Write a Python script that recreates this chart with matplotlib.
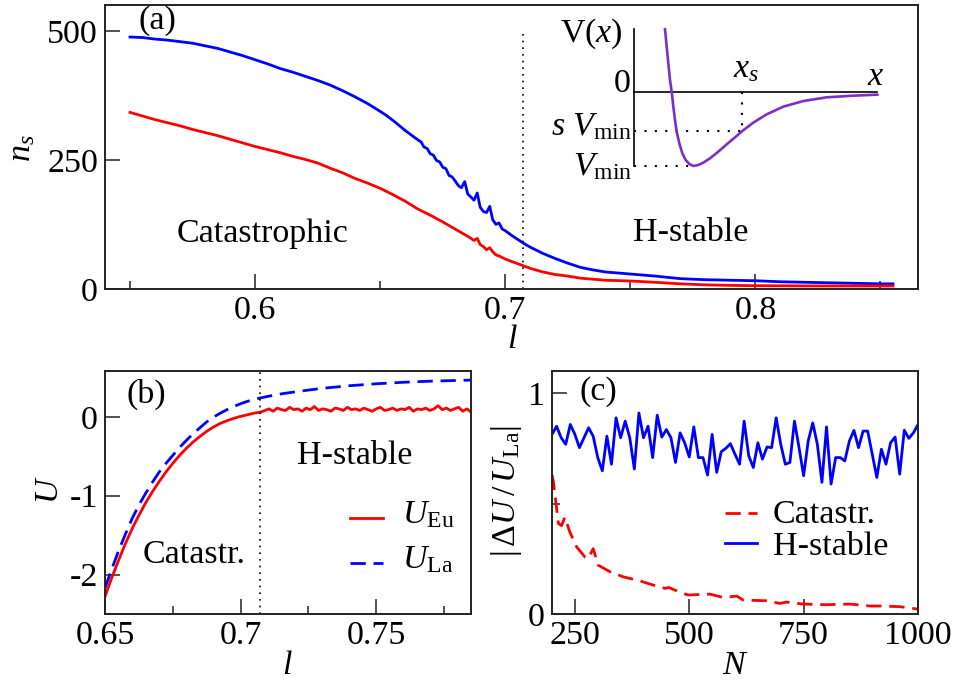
import numpy as np
import matplotlib
matplotlib.use('Agg')
import matplotlib.pyplot as plt

plt.rcParams['font.family'] = ['Liberation Serif', 'DejaVu Serif']
plt.rcParams['mathtext.fontset'] = 'custom'
plt.rcParams['mathtext.rm'] = 'Liberation Serif'
plt.rcParams['mathtext.it'] = 'Liberation Serif:italic'
plt.rcParams['mathtext.bf'] = 'Liberation Serif:bold'
FS = 24.5

RED = '#ff0000'
BLUE = '#0000ff'
PURPLE = '#7b2fc4'

# ---------------- panel (a) data ----------------
l_a_blue = [0.550, 0.555, 0.560, 0.565, 0.570, 0.575, 0.580, 0.585, 0.590, 0.595,
            0.600, 0.605, 0.610, 0.615, 0.620, 0.625, 0.630, 0.635, 0.640, 0.645,
            0.650, 0.6525, 0.655, 0.6575, 0.660, 0.6625, 0.665, 0.6663, 0.6675, 0.6688,
            0.670, 0.6713, 0.6725, 0.6738, 0.675, 0.6763, 0.6775, 0.6788, 0.680, 0.6813,
            0.6825, 0.6838, 0.685, 0.6863, 0.6875, 0.6888, 0.690, 0.6913, 0.6925, 0.6938,
            0.695, 0.6963, 0.6975, 0.6988, 0.700, 0.7025, 0.705, 0.7075, 0.710, 0.715,
            0.720, 0.725, 0.730, 0.735, 0.740, 0.745, 0.750, 0.760, 0.770, 0.780,
            0.790, 0.800, 0.810, 0.820, 0.830, 0.840, 0.850, 0.855]
n_blue = [488, 487, 484, 482, 479, 476, 471, 466, 459, 452,
          444, 436, 427, 420, 412, 404, 395, 384, 372, 359,
          344, 336, 327, 317, 307, 298, 289, 285, 275, 272,
          262, 259, 249, 246, 236, 233, 220, 217, 209, 200,
          196, 208, 184, 178, 172, 186, 158, 150, 148, 160,
          134, 125, 128, 116, 113, 104, 96, 88, 81, 69,
          59, 50, 42, 37, 33, 31, 29, 25, 20, 18,
          17, 16, 14, 13, 12, 11, 10, 10]

l_a_red = [0.550, 0.555, 0.560, 0.565, 0.570, 0.575, 0.580, 0.585, 0.590, 0.595,
           0.600, 0.605, 0.610, 0.615, 0.620, 0.625, 0.630, 0.635, 0.640, 0.645,
           0.650, 0.655, 0.660, 0.665, 0.670, 0.675, 0.680, 0.6825, 0.685, 0.6863,
           0.6875, 0.6888, 0.690, 0.6913, 0.6925, 0.6938, 0.695, 0.6963, 0.6975, 0.700,
           0.705, 0.710, 0.715, 0.720, 0.725, 0.730, 0.735, 0.740, 0.750, 0.760,
           0.770, 0.780, 0.790, 0.800, 0.820, 0.840, 0.855]
n_red = [342, 335, 328, 322, 316, 309, 303, 297, 290, 283,
         276, 270, 264, 257, 251, 244, 234, 225, 214, 205,
         195, 183, 170, 155, 143, 130, 116, 109, 102, 98,
         94, 98, 86, 82, 76, 80, 72, 66, 64, 58,
         49, 40, 33, 28, 25, 21, 19, 17, 15.5, 13,
         10, 8, 7, 6.4, 6, 5.8, 5.8]

l_crit = 0.7071

# inset potential V(x) (schematic, arbitrary units)
x_pot = [0.31, 0.3267, 0.3433, 0.36, 0.3767, 0.3933, 0.41, 0.4267, 0.4533, 0.4833,
         0.5167, 0.5533, 0.5933, 0.6433, 0.6933, 0.76, 0.8433, 0.9267, 1.01, 1.0833,
         1.1933, 1.3267, 1.4933, 1.6933, 1.9267, 2.1933, 2.4333]
v_pot = [0.847, 0.613, 0.387, 0.162, 0.005, -0.198, -0.378, -0.536, -0.694, -0.829,
         -0.919, -0.973, -1.0, -0.986, -0.955, -0.896, -0.806, -0.707, -0.613, -0.527,
         -0.414, -0.302, -0.198, -0.122, -0.072, -0.050, -0.036]
x_s = 1.0833
s_vmin = -0.527
v_min = -1.0
x_vmin = 0.5933

# ---------------- panel (b) data ----------------
l_b_la = [0.650, 0.6525, 0.655, 0.6575, 0.660, 0.6625, 0.665, 0.6675, 0.670, 0.6725,
          0.675, 0.6775, 0.680, 0.6825, 0.685, 0.6875, 0.690, 0.6925, 0.695, 0.6975,
          0.700, 0.7025, 0.705, 0.7075, 0.710, 0.715, 0.720, 0.725, 0.730, 0.740,
          0.750, 0.760, 0.770, 0.7854]
U_La = [-2.17, -1.93, -1.70, -1.49, -1.29, -1.12, -0.97, -0.83, -0.70, -0.59,
        -0.49, -0.39, -0.30, -0.215, -0.14, -0.065, -0.005, 0.045, 0.09, 0.13,
        0.165, 0.195, 0.22, 0.24, 0.258, 0.29, 0.315, 0.338, 0.36, 0.393,
        0.418, 0.437, 0.451, 0.465]

l_b_eu = [0.650, 0.6525, 0.655, 0.6575, 0.660, 0.6625, 0.665, 0.6675, 0.670, 0.6725,
          0.675, 0.6775, 0.680, 0.6825, 0.685, 0.6875, 0.690, 0.6925, 0.695, 0.6975,
          0.700, 0.7025, 0.705, 0.7075]
U_Eu = [-2.28, -2.04, -1.82, -1.61, -1.42, -1.25, -1.09, -0.95, -0.82, -0.70,
        -0.59, -0.49, -0.40, -0.32, -0.25, -0.185, -0.13, -0.085, -0.05, -0.02,
        0.005, 0.025, 0.045, 0.06]
U_Eu_plateau = [0.08, 0.10, 0.07, 0.11, 0.09, 0.08, 0.12, 0.09, 0.10, 0.07,
                0.11, 0.09, 0.13, 0.08, 0.10, 0.09, 0.07, 0.11, 0.10, 0.08,
                0.12, 0.09, 0.10, 0.08, 0.11, 0.09, 0.07, 0.10, 0.12, 0.08,
                0.09, 0.11, 0.08, 0.10, 0.09, 0.12, 0.07, 0.10, 0.09, 0.11,
                0.08, 0.10, 0.14, 0.09, 0.11, 0.08, 0.10, 0.12, 0.07, 0.10, 0.06]
l_plateau = np.linspace(0.709, 0.785, len(U_Eu_plateau))

# ---------------- panel (c) data ----------------
N_hstable = np.arange(200, 1001, 10)
dU_hstable = [0.813, 0.850, 0.798, 0.768, 0.858, 0.813, 0.753, 0.798, 0.843, 0.805,
              0.708, 0.648, 0.805, 0.678, 0.888, 0.798, 0.873, 0.798, 0.656, 0.910,
              0.798, 0.850, 0.708, 0.900, 0.801, 0.835, 0.798, 0.686, 0.820, 0.775,
              0.711, 0.847, 0.708, 0.708, 0.629, 0.813, 0.641, 0.735, 0.750, 0.771,
              0.723, 0.678, 0.873, 0.716, 0.663, 0.775, 0.701, 0.756, 0.753, 0.888,
              0.768, 0.678, 0.686, 0.873, 0.753, 0.626, 0.783, 0.865, 0.768, 0.596,
              0.847, 0.588, 0.708, 0.708, 0.693, 0.783, 0.831, 0.753, 0.828, 0.828,
              0.723, 0.618, 0.746, 0.678, 0.775, 0.801, 0.633, 0.832, 0.795, 0.820,
              0.858]
N_catastr = [200, 203, 214, 221, 228, 239, 254, 272, 279, 290,
             301, 327, 356, 392, 421, 447, 455, 487, 498, 545,
             574, 604, 618, 669, 698, 713, 749, 800, 851, 895,
             924, 961, 1000]
dU_catastr = [0.63, 0.60, 0.41, 0.40, 0.438, 0.371, 0.303, 0.258, 0.251, 0.296,
              0.221, 0.191, 0.168, 0.150, 0.131, 0.116, 0.120, 0.093, 0.086, 0.090,
              0.075, 0.081, 0.063, 0.060, 0.048, 0.054, 0.045, 0.042, 0.045, 0.036,
              0.036, 0.033, 0.022]

# ---------------- figure ----------------
W, H = 955, 684
fig = plt.figure(figsize=(W / 100, H / 100), dpi=100)


def box(l, t, r, b):
    return [l / W, 1 - b / H, (r - l) / W, (b - t) / H]


def fpt(px, py):
    return (px / W, 1 - py / H)


def style(ax):
    for s in ax.spines.values():
        s.set_linewidth(1.4)
        s.set_color('#222222')
    ax.tick_params(which='both', direction='in', top=False, right=False,
                   labelsize=FS, width=1.1, color='#222222')
    ax.tick_params(which='major', length=11, pad=5)
    ax.tick_params(which='minor', length=6)


DOT = (0, (1, 3))
DASH = (5.5, 2.8)
LW = 2.0

# panel (a)
ax_a = fig.add_axes(box(105, 5, 918, 289))
ax_a.plot(l_a_blue, n_blue, color=BLUE, lw=LW)
ax_a.plot(l_a_red, n_red, color=RED, lw=LW)
ax_a.plot([l_crit, l_crit], [0, 500], color='black', lw=1.2, linestyle=DOT)
ax_a.set_xlim(0.54, 0.865)
ax_a.set_ylim(0, 550)
ax_a.set_xticks([0.6, 0.7, 0.8])
ax_a.set_xticklabels(['0.6', '0.7', '0.8'])
ax_a.set_xticks([0.55, 0.65, 0.75, 0.85], minor=True)
ax_a.set_yticks([0, 250, 500])
style(ax_a)
fig.text(*fpt(139, 21), '(a)', fontsize=FS, ha='left', va='center')
fig.text(*fpt(177, 242), 'Catastrophic', fontsize=FS, ha='left', va='baseline')
fig.text(*fpt(633, 241), 'H-stable', fontsize=FS, ha='left', va='baseline')
fig.text(*fpt(22, 148), r'$n_s$', fontsize=FS, rotation=90, ha='center', va='center')
fig.text(*fpt(512, 348), r'$l$', fontsize=FS, ha='center', va='baseline')

# inset
ax_in = fig.add_axes(box(634, 25, 880, 170))
ax_in.set_xlim(0, 2.46)
ax_in.set_ylim(-1.054, 0.905)
ax_in.axis('off')
IDOT = (0, (1, 4))
ax_in.plot([0, 0], [0.851, v_min], color='black', lw=1.2, clip_on=False)
ax_in.plot([0, 2.43], [0, 0], color='black', lw=1.2, clip_on=False)
ax_in.plot([0, x_s], [s_vmin, s_vmin], color='black', lw=1.5, linestyle=IDOT, clip_on=False)
ax_in.plot([x_s, x_s], [0, s_vmin], color='black', lw=1.5, linestyle=IDOT, clip_on=False)
ax_in.plot([0, x_vmin], [v_min, v_min], color='black', lw=1.5, linestyle=IDOT, clip_on=False)
ax_in.plot(x_pot, v_pot, color=PURPLE, lw=1.9, clip_on=False)
fig.text(*fpt(623, 34), r'$\mathrm{V}(x)$', fontsize=FS, ha='right', va='center')
fig.text(*fpt(631, 92), '0', fontsize=FS, ha='right', va='baseline')
fig.text(*fpt(733, 77), r'$x_s$', fontsize=FS, ha='left', va='baseline')
fig.text(*fpt(867, 85), r'$x$', fontsize=FS, ha='left', va='baseline')
fig.text(*fpt(632, 135), r'$s\ V_{\mathrm{min}}$', fontsize=FS, ha='right', va='baseline')
fig.text(*fpt(632, 175), r'$V_{\mathrm{min}}$', fontsize=FS, ha='right', va='baseline')

# panel (b)
ax_b = fig.add_axes(box(105, 371, 471, 614))
ax_b.plot(l_b_la, U_La, color=BLUE, lw=LW, dashes=DASH)
ax_b.plot(list(l_b_eu) + list(l_plateau), list(U_Eu) + list(U_Eu_plateau), color=RED, lw=LW)
ax_b.axvline(l_crit, color='black', lw=1.2, linestyle=DOT)
ax_b.set_xlim(0.65, 0.785)
ax_b.set_ylim(-2.5, 0.58)
ax_b.set_xticks([0.65, 0.7, 0.75])
ax_b.set_xticklabels(['0.65', '0.7', '0.75'])
ax_b.set_xticks([0.675, 0.725, 0.775], minor=True)
ax_b.set_yticks([0, -1, -2])
ax_b.set_yticklabels(['0', '-1', '-2'])
style(ax_b)
fig.text(*fpt(127, 394), '(b)', fontsize=FS, ha='left', va='center')
fig.text(*fpt(297, 464), 'H-stable', fontsize=FS, ha='left', va='baseline')
fig.text(*fpt(143, 563), 'Catastr.', fontsize=FS, ha='left', va='baseline')
fig.text(*fpt(50, 490), r'$U$', fontsize=FS, rotation=90, ha='center', va='center')
fig.text(*fpt(287, 666), r'$l$', fontsize=FS, ha='center', va='center')
# legend (b)
fig.add_artist(plt.Line2D([350 / W, 383 / W], [1 - 518 / H] * 2, color=RED, lw=LW))
fig.add_artist(plt.Line2D([350 / W, 383 / W], [1 - 563 / H] * 2, color=BLUE, lw=LW, dashes=DASH))
fig.text(*fpt(402, 523), r'$U_{\mathrm{Eu}}$', fontsize=FS, ha='left', va='baseline')
fig.text(*fpt(402, 568), r'$U_{\mathrm{La}}$', fontsize=FS, ha='left', va='baseline')

# panel (c)
ax_c = fig.add_axes(box(552, 371, 918, 614))
ax_c.plot(N_hstable, dU_hstable, color=BLUE, lw=LW)
ax_c.plot(N_catastr, dU_catastr, color=RED, lw=LW, dashes=DASH)
ax_c.set_xlim(200, 1000)
ax_c.set_ylim(0, 1.1)
ax_c.set_xticks([250, 500, 750, 1000])
ax_c.set_yticks([0, 1])
ax_c.set_yticks([0.5], minor=True)
style(ax_c)
fig.text(*fpt(579, 392), '(c)', fontsize=FS, ha='left', va='center')
fig.text(*fpt(506, 491), r'$|\,\Delta U\,/\,U_{\mathrm{La}}|$', fontsize=FS, rotation=90,
         ha='center', va='center')
fig.text(*fpt(735, 666), r'$N$', fontsize=FS, ha='center', va='center')
# legend (c)
fig.add_artist(plt.Line2D([725 / W, 757 / W], [1 - 513 / H] * 2, color=RED, lw=LW, dashes=DASH))
fig.add_artist(plt.Line2D([725 / W, 757 / W], [1 - 543 / H] * 2, color=BLUE, lw=LW))
fig.text(*fpt(773, 523), 'Catastr.', fontsize=FS, ha='left', va='baseline')
fig.text(*fpt(773, 555), 'H-stable', fontsize=FS, ha='left', va='baseline')

fig.savefig('out.png', dpi=100)
